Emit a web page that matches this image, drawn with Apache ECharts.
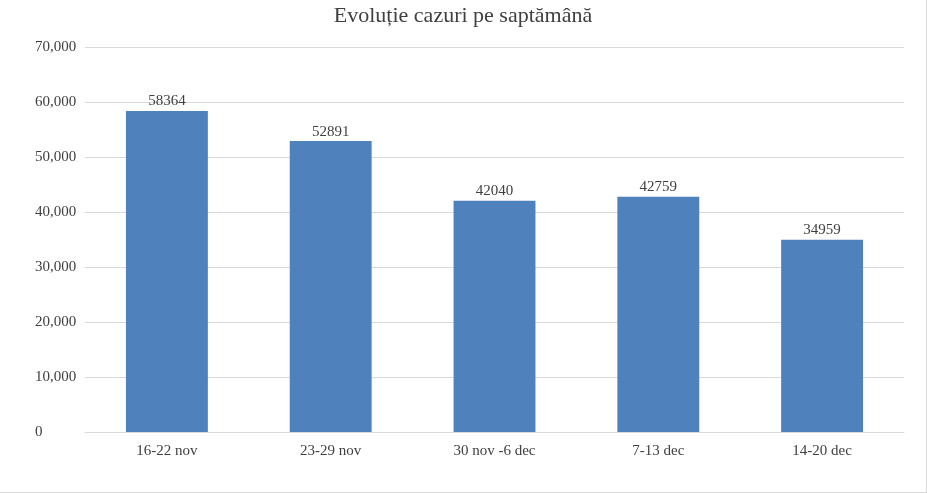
<!DOCTYPE html><html><head><meta charset="utf-8"><script src="https://cdn.jsdelivr.net/npm/echarts@6/dist/echarts.min.js"></script>
<style>html,body{margin:0;padding:0;background:#fff}#c{width:927px;height:493px;box-sizing:border-box;border:1px solid #d9d9d9;border-top:none;border-left:none}</style></head><body><div id="c"></div><script>
const categories=["16-22 nov","23-29 nov","30 nov -6 dec","7-13 dec","14-20 dec"];
const values=[58364,52891,42040,42759,34959];
const font="Liberation Serif";
const ch=echarts.init(document.getElementById('c'));
ch.setOption({animation:false,
title:{text:"Evoluție cazuri pe saptămână",left:'center',top:0,textStyle:{fontFamily:font,fontSize:22,fontWeight:'normal',color:'#404040'}},
grid:{left:85,right:22,top:47,bottom:60},
xAxis:{type:'category',data:categories,axisTick:{show:false},axisLine:{lineStyle:{color:'#d9d9d9'}},axisLabel:{fontFamily:font,fontSize:15,color:'#404040',margin:12}},
yAxis:{type:'value',min:0,max:70000,interval:10000,axisLabel:{fontFamily:font,fontSize:15,color:'#404040',margin:50,align:'left'},splitLine:{lineStyle:{color:'#d9d9d9'}}},
series:[{type:'bar',data:values,barWidth:'50%',itemStyle:{color:'#4F81BD'},label:{show:true,position:'top',distance:2,fontFamily:font,fontSize:15,color:'#404040'}}]});
</script></body></html>
